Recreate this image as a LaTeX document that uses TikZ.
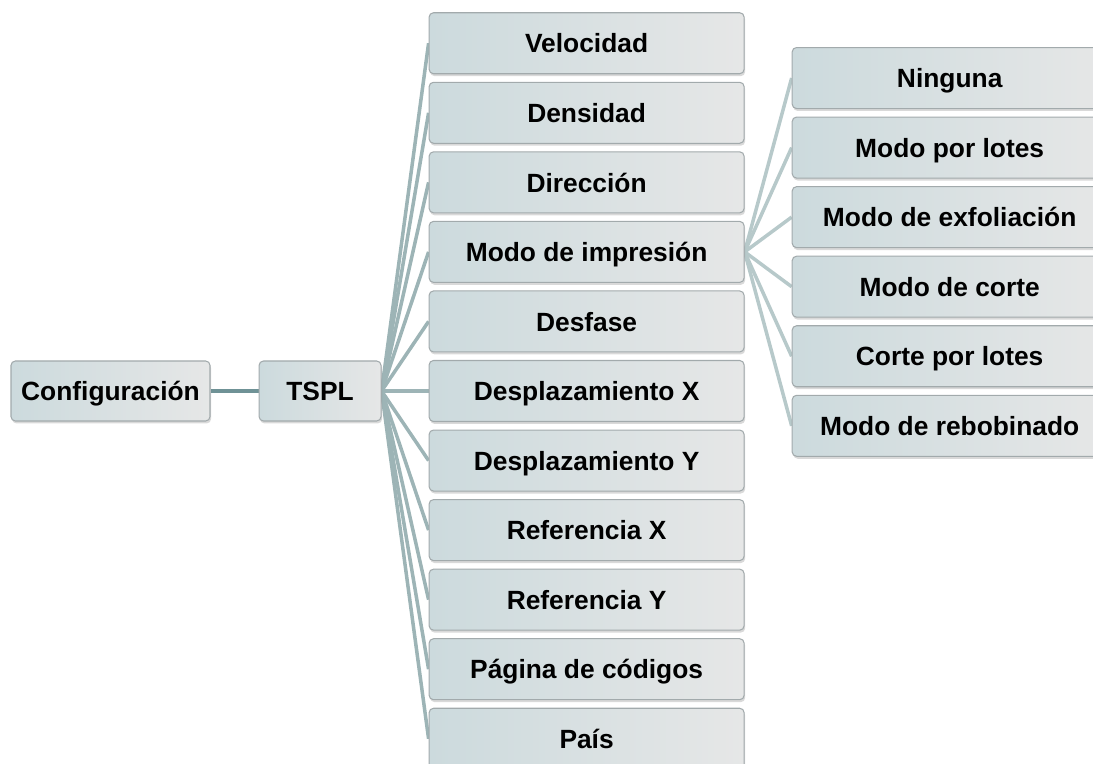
\documentclass[tikz,border=0pt]{standalone}
\usepackage{fontspec}
\setmainfont{Liberation Sans}
\usetikzlibrary{backgrounds,positioning,shadows}
\definecolor{MapInk}{HTML}{000000}
\definecolor{MapEdge}{HTML}{A2AAAC}
\definecolor{MapLeft}{HTML}{CCDADD}
\definecolor{MapRight}{HTML}{E6E7E7}
\definecolor{MapRoot}{HTML}{6F9296}
\definecolor{MapBranch}{HTML}{9DB4B6}
\definecolor{MapLeaf}{HTML}{B7C9CA}
\tikzset{
  map/node/.style={
    draw=MapEdge, line width=.6pt, rounded corners=2.5pt,
    left color=MapLeft, right color=MapRight,
    minimum height=1.22cm, inner sep=2pt,
    text height=11pt, text depth=0pt,
    font=\fontsize{15}{18}\selectfont\bfseries, text=MapInk,
    drop shadow={shadow xshift=.6pt, shadow yshift=-1.4pt, opacity=.3}
  },
  map/item/.style={map/node, minimum width=6.3cm},
  map/rootlink/.style={line width=2pt, draw=MapRoot},
  map/link/.style={line width=2pt, draw=MapBranch},
  map/leaflink/.style={line width=2pt, draw=MapLeaf}
}

\begin{document}
\begin{tikzpicture}[node distance=.15cm]
  \clip (0,0) rectangle (21.86,-15.28);
  \node[map/node,minimum width=3.98cm,minimum height=1.2cm] (config) at (2.21,-7.82) {Configuración};
  \node[map/node,minimum width=2.44cm,minimum height=1.2cm,right=.96cm of config] (tspl) {TSPL};
  % first column, centred on TSPL
  \node[map/item,right=.94cm of tspl] (dx) {Desplazamiento X};
  \node[map/item,above=of dx] (desf) {Desfase};
  \node[map/item,above=of desf] (impr) {Modo de impresión};
  \node[map/item,above=of impr] (dir) {Dirección};
  \node[map/item,above=of dir] (dens) {Densidad};
  \node[map/item,above=of dens] (vel) {Velocidad};
  \node[map/item,below=of dx] (dy) {Desplazamiento Y};
  \node[map/item,below=of dy] (refx) {Referencia X};
  \node[map/item,below=of refx] (refy) {Referencia Y};
  \node[map/item,below=of refy] (pag) {Página de códigos};
  \node[map/item,below=of pag] (pais) {País};
  % second column, centred on Modo de impresión
  \node[map/item,right=.94cm of impr,yshift=.695cm] (exfol) {Modo de exfoliación};
  \node[map/item,above=of exfol] (lotes) {Modo por lotes};
  \node[map/item,above=of lotes] (ning) {Ninguna};
  \node[map/item,below=of exfol] (corte) {Modo de corte};
  \node[map/item,below=of corte] (clotes) {Corte por lotes};
  \node[map/item,below=of clotes] (rebob) {Modo de rebobinado};
  \begin{scope}[on background layer]
    \draw[map/rootlink] (config.east)--(tspl.west);
    \draw[map/link] (tspl.east)--(vel.west);
    \draw[map/link] (tspl.east)--(dens.west);
    \draw[map/link] (tspl.east)--(dir.west);
    \draw[map/link] (tspl.east)--(impr.west);
    \draw[map/link] (tspl.east)--(desf.west);
    \draw[map/link] (tspl.east)--(dx.west);
    \draw[map/link] (tspl.east)--(dy.west);
    \draw[map/link] (tspl.east)--(refx.west);
    \draw[map/link] (tspl.east)--(refy.west);
    \draw[map/link] (tspl.east)--(pag.west);
    \draw[map/link] (tspl.east)--(pais.west);
    \draw[map/leaflink] (impr.east)--(ning.west);
    \draw[map/leaflink] (impr.east)--(lotes.west);
    \draw[map/leaflink] (impr.east)--(exfol.west);
    \draw[map/leaflink] (impr.east)--(corte.west);
    \draw[map/leaflink] (impr.east)--(clotes.west);
    \draw[map/leaflink] (impr.east)--(rebob.west);
  \end{scope}
\end{tikzpicture}
\end{document}
